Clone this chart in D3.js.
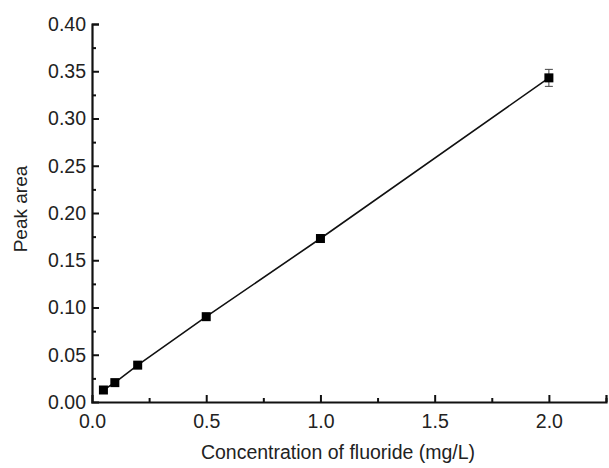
<!DOCTYPE html>
<html>
<head>
<meta charset="utf-8">
<script src="https://cdn.jsdelivr.net/npm/d3@7"></script>
<style>
  body { margin: 0; background: #fff; }
  text { font-family: Arial, "Liberation Sans", sans-serif; fill: #222; }
</style>
</head>
<body>
<div id="chart"></div>
<script>
// calibration data: fluoride concentration vs peak area
var conc = [0.05, 0.1, 0.2, 0.5, 1.0, 2.0];
var area = [0.0127, 0.0205, 0.039, 0.0903, 0.173, 0.343];
var errs = [0, 0, 0, 0, 0, 0.009];

var xTicks = [0.0, 0.5, 1.0, 1.5, 2.0];
var yTicks = [0.00, 0.05, 0.10, 0.15, 0.20, 0.25, 0.30, 0.35, 0.40];

var width = 609, height = 468;
var margin = {left: 92, right: 3, top: 24, bottom: 66};

var svg = d3.select("#chart").append("svg")
  .attr("width", width)
  .attr("height", height);

var x = d3.scaleLinear().domain([0, 2.25]).range([margin.left, width - margin.right]);
var y = d3.scaleLinear().domain([0, 0.40]).range([height - margin.bottom, margin.top]);

var pts = conc.map(function(c, i) { return {x: c, y: area[i], e: errs[i]}; });

// x axis (ticks pointing inward)
var xAxis = svg.append("g")
  .attr("transform", "translate(0," + y(0) + ")")
  .call(d3.axisBottom(x).tickValues(xTicks).tickSize(-7).tickPadding(12).tickFormat(d3.format(".1f")));
xAxis.selectAll(".tick").filter(function(d) { return d == 0; }).select("line").remove();
svg.append("g")
  .attr("transform", "translate(0," + y(0) + ")")
  .call(d3.axisBottom(x).tickValues([0.25, 0.75, 1.25, 1.75, 2.25]).tickSize(-4).tickFormat(""))
  .select(".domain").remove();

var yAxis = svg.append("g")
  .attr("transform", "translate(" + x(0) + ",0)")
  .call(d3.axisLeft(y).tickValues(yTicks).tickSize(-7).tickPadding(6).tickFormat(d3.format(".2f")));
yAxis.selectAll(".tick").filter(function(d) { return d == 0; }).select("line").remove();
svg.append("g")
  .attr("transform", "translate(" + x(0) + ",0)")
  .call(d3.axisLeft(y).tickValues([0.025, 0.075, 0.125, 0.175, 0.225, 0.275, 0.325, 0.375]).tickSize(-4).tickFormat(""))
  .select(".domain").remove();

svg.selectAll(".domain").attr("stroke", "#111").attr("stroke-width", 2.2);
svg.selectAll(".tick line").attr("stroke", "#111").attr("stroke-width", 2);
svg.selectAll(".tick text").attr("font-size", 19.5).style("fill", "#222");

// line through points
svg.append("path")
  .datum(pts)
  .attr("fill", "none")
  .attr("stroke", "#111")
  .attr("stroke-width", 1.6)
  .attr("d", d3.line().x(function(d) { return x(d.x); }).y(function(d) { return y(d.y); }));

// error bars
var eb = svg.selectAll(".err").data(pts.filter(function(d) { return d.e > 0; })).enter().append("g");
eb.append("line")
  .attr("x1", function(d) { return x(d.x); }).attr("x2", function(d) { return x(d.x); })
  .attr("y1", function(d) { return y(d.y - d.e); }).attr("y2", function(d) { return y(d.y + d.e); })
  .attr("stroke", "#444").attr("stroke-width", 1);
[-1, 1].forEach(function(s) {
  eb.append("line")
    .attr("x1", function(d) { return x(d.x) - 4; }).attr("x2", function(d) { return x(d.x) + 4; })
    .attr("y1", function(d) { return y(d.y + s * d.e); }).attr("y2", function(d) { return y(d.y + s * d.e); })
    .attr("stroke", "#444").attr("stroke-width", 1);
});

// markers
var ms = 9;
svg.selectAll(".pt").data(pts).enter().append("rect")
  .attr("x", function(d) { return x(d.x) - ms / 2; })
  .attr("y", function(d) { return y(d.y) - ms / 2; })
  .attr("width", ms).attr("height", ms)
  .attr("fill", "#000");

// titles
svg.append("text")
  .attr("x", 338).attr("y", 459)
  .attr("text-anchor", "middle")
  .attr("font-size", 19.5)
  .text("Concentration of fluoride (mg/L)");

svg.append("text")
  .attr("transform", "translate(27,209) rotate(-90)")
  .attr("text-anchor", "middle")
  .attr("font-size", 19)
  .text("Peak area");
</script>
</body>
</html>
